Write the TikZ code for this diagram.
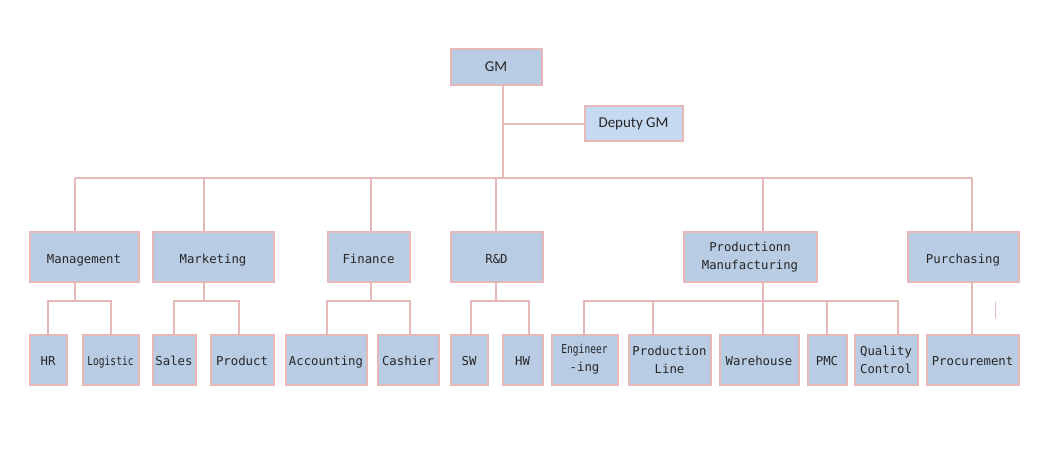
\documentclass[tikz,border=0pt]{standalone}
\usepackage{fontspec}
\setmainfont{DejaVu Sans Mono}
\newfontfamily\headfont{Carlito}
\definecolor{boxfill}{HTML}{B8CCE4}
\definecolor{deputyfill}{HTML}{C5D9F1}
\definecolor{boxline}{HTML}{E6B8B7}
\tikzstyle{box}=[draw=boxline, fill=boxfill, line width=2, inner sep=0,
  minimum height=50, align=center, text=black!85,
  font=\fontsize{12.3}{18}\selectfont]
\tikzstyle{unit}=[box, text height=12, text depth=0]
\tikzstyle{twoline}=[box]
\tikzstyle{head}=[box, minimum height=36, font=\headfont\fontsize{15}{18}\selectfont]
\tikzstyle{link}=[draw=boxline, line width=2]
\newcommand{\narrow}[1]{\scalebox{0.78}[1]{#1}}

\begin{document}
\begin{tikzpicture}[x=1pt, y=-1pt]
  \useasboundingbox (0,0) rectangle (1056,454);

  \node[head, minimum width=91] (gm) at (496,67) {GM};
  \node[head, fill=deputyfill, minimum width=98, minimum height=35]
    (deputy) at (633.5,124) {Deputy GM};

  % departments
  \node[unit, minimum width=109] (mgmt) at (84,257) {Management};
  \node[unit, minimum width=121] (mkt) at (213,257) {Marketing};
  \node[unit, minimum width=82] (fin) at (368.5,257) {Finance};
  \node[unit, minimum width=92] (rd) at (496.5,257) {R\&D};
  \node[twoline, minimum width=133] (prod) at (750,257) {Productionn\\Manufacturing};
  \node[unit, minimum width=111] (pur) at (963,257) {Purchasing};

  % sections
  \node[unit, minimum width=37] (hr) at (48,359.5) {HR};
  \node[unit, minimum width=56] (logi) at (110.5,359.5) {\narrow{Logistic}};
  \node[unit, minimum width=43] (sales) at (174,359.5) {Sales};
  \node[unit, minimum width=63] (product) at (242,359.5) {Product};
  \node[unit, minimum width=81] (acc) at (326,359.5) {Accounting};
  \node[unit, minimum width=61] (cash) at (408,359.5) {Cashier};
  \node[unit, minimum width=37] (sw) at (469,359.5) {SW};
  \node[unit, minimum width=40] (hw) at (522.5,359.5) {HW};
  \node[twoline, minimum width=66] (eng) at (584.5,359.5) {\narrow{Engineer}\\-ing};
  \node[twoline, minimum width=82] (pline) at (669.5,359.5) {Production\\Line};
  \node[unit, minimum width=79] (wh) at (759,359.5) {Warehouse};
  \node[unit, minimum width=39] (pmc) at (827,359.5) {PMC};
  \node[twoline, minimum width=63] (qc) at (886,359.5) {Quality\\Control};
  \node[unit, minimum width=92] (proc) at (972.5,359.5) {Procurement};

  % top level lines
  \coordinate (trunk) at (503,178);
  \draw[link] (gm.south -| trunk) -- (trunk);
  \draw[link] (trunk |- deputy.west) -- (deputy.west);
  \coordinate (top-mgmt) at (75,178);
  \coordinate (top-pur) at (972,178);
  \draw[link] (top-mgmt) -- (top-pur);
  \foreach \p/\x in {mgmt/75, mkt/204, fin/371, rd/496, prod/763, pur/972} {
    \coordinate (top-\p) at (\x,178);
    \draw[link] (top-\p) -- (top-\p |- \p.north);
  }

  % lower level lines
  \foreach \p/\x/\kids in {mgmt/75/{hr/48,logi/111},
      mkt/204/{sales/174,product/239}, fin/371/{acc/327,cash/410},
      rd/496/{sw/471,hw/529},
      prod/763/{eng/584,pline/653,wh/763,pmc/827,qc/898}} {
    \coordinate (j-\p) at (\x,301);
    \draw[link] (j-\p |- \p.south) -- (j-\p);
    \foreach \c/\cx in \kids {
      \coordinate (j-\c) at (\cx,301);
      \draw[link] (j-\p) -- (j-\c) -- (j-\c |- \c.north);
    }
  }
  \draw[link] (top-pur |- pur.south) -- (top-pur |- proc.north);
  \draw[boxline, line width=0.8] (995,302) -- (995,318);
\end{tikzpicture}
\end{document}
